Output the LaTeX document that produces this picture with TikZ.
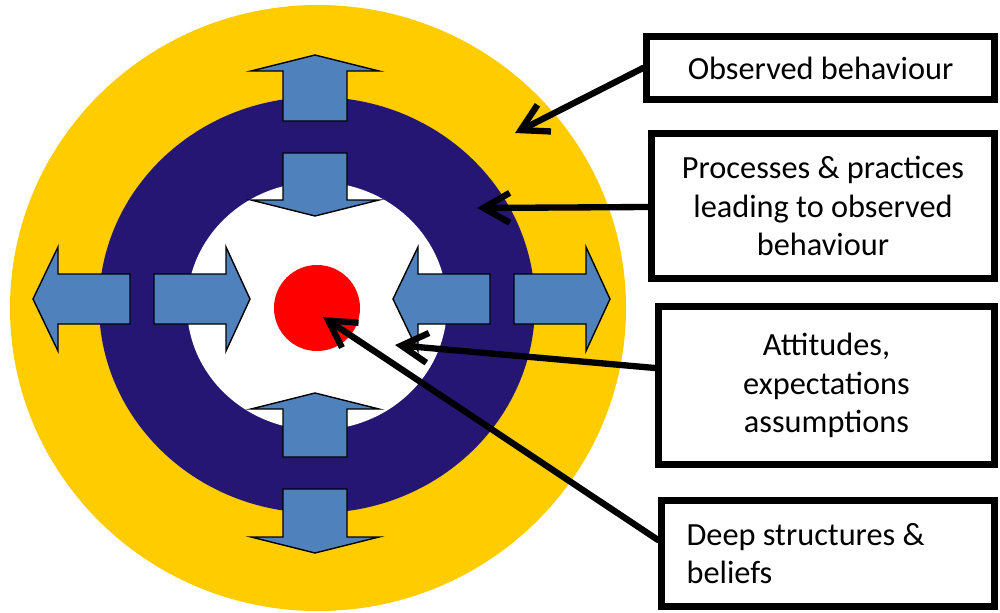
\documentclass[tikz,border=0pt]{standalone}
\usepackage{fontspec}
\setmainfont{Carlito}
\usetikzlibrary{arrows.meta,positioning}
\definecolor{ringyellow}{RGB}{255,204,0}
\definecolor{ringnavy}{RGB}{38,22,115}
\definecolor{arrowblue}{RGB}{79,129,189}
\tikzset{
  label box/.style = {draw, line width=4pt, align=center, inner sep=0pt,
                      font=\fontsize{18.4}{22}\selectfont},
  block/.style     = {draw=black, fill=arrowblue, line width=0.8pt},
  pointer/.style   = {line width=3.6pt, line cap=round,
                      -{Straight Barb[length=15pt,width=17pt]}}
}

\begin{document}
\begin{tikzpicture}[x=0.02cm, y=-0.02cm]
\useasboundingbox (0,0) rectangle (1000,612);

% the rings of the target
\fill[ringyellow] (318,308) ellipse [x radius=308, y radius=303];
\fill[ringnavy] (317,305) ellipse [x radius=218, y radius=208];
\fill[white] (317,306) ellipse [x radius=130, y radius=124];
\fill[red] (317,308) circle [radius=43];

% block arrows: base x/base y/rotation/length/head length/shaft half width/head half width
\foreach \x/\y/\r/\l/\h/\s/\w in {315/121/90/66/16/32/64, 315/153/-90/63/16/32/64,
    315/457/90/64/16/32/64, 315/489/-90/64/16/32/64,
    130/299/180/97/25/25/52, 154/299/0/96/24/25/52,
    490/299/180/97/25/25/52, 514/299/0/96/24/25/52}
  \draw[block, shift={(\x,\y)}, rotate=\r] (0,-\s) -- ({\l-\h},-\s) -- ({\l-\h},-\w)
    -- (\l,0) -- ({\l-\h},\w) -- ({\l-\h},\s) -- (0,\s) -- cycle;

% the labels
\node[label box, minimum width=6.96cm, minimum height=1.26cm] (obs) at (820.5,68) {Observed behaviour};
\node[label box, minimum width=6.86cm, minimum height=2.9cm] (proc) at (823,206)
  {Processes \& practices\\leading to observed\\behaviour};
\node[label box, minimum width=6.72cm, minimum height=3.16cm] (att) at (826.5,385.5)
  {Attitudes,\\expectations\\assumptions};
\node[label box, align=flush left, text width=5.66cm, inner xsep=0.5cm, minimum height=2.12cm] (deep) at (828,553.5)
  {Deep structures \&\\beliefs};

% where the pointers end
\coordinate (obs tip) at (515,133);
\coordinate (proc tip) at (477,208);
\coordinate (att tip) at (395,345);
\coordinate (deep tip) at (323,317);

\draw[pointer] (obs.west) -- (obs tip);
\draw[pointer] ([yshift=-0.02cm]proc.west) -- (proc tip);
\draw[pointer] ([yshift=0.35cm]att.west) -- (att tip);
\draw[pointer] ([yshift=0.27cm]deep.west) -- (deep tip);
\end{tikzpicture}
\end{document}
